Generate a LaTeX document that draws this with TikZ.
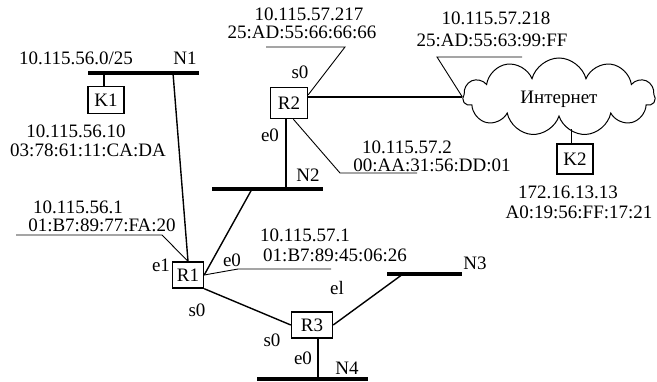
\documentclass[tikz,border=0pt]{standalone}
\usepackage{fontspec}
\setmainfont{Liberation Serif}
\usetikzlibrary{shapes.symbols}
\begin{document}
\begin{tikzpicture}[x=1pt,y=-1pt,
  txt/.style={inner sep=0pt, text height=12.6pt, text depth=0pt, font=\fontsize{19}{20}\selectfont},
  dev/.style={draw, line width=1.4pt, inner sep=0pt, txt},
  bar/.style={line width=4.5pt},
  link/.style={line width=1.4pt},
  lead/.style={line width=0.9pt}]
\useasboundingbox (0,0) rectangle (657,382);
% bars
\coordinate (n1l) at (88,73); \coordinate (n1r) at (199,73);
\coordinate (n2l) at (212,189); \coordinate (n2r) at (323,189);
\coordinate (n3l) at (387,274); \coordinate (n3r) at (462,274);
\coordinate (n4l) at (257,379); \coordinate (n4r) at (368,379);
\draw[bar] (n1l) -- (n1r);
\draw[bar] (n2l) -- (n2r);
\draw[bar] (n3l) -- (n3r);
\draw[bar] (n4l) -- (n4r);
% devices
\node[dev, minimum width=36pt, minimum height=27pt] (k1) at (106,100) {K1};
\node[dev, minimum width=37pt, minimum height=31pt] (r2) at (289,103) {R2};
\node[dev, minimum width=31pt, minimum height=26pt] (r1) at (188,275) {R1};
\node[dev, minimum width=41pt, minimum height=26pt] (r3) at (312,325) {R3};
\node[dev, minimum width=36pt, minimum height=30pt] (k2) at (575,159) {K2};
\node[cloud, draw, line width=1pt, cloud puffs=11, aspect=2.6, minimum width=192pt, minimum height=78pt, inner sep=0pt, txt] (net) at (559,97) {Интернет};
% links
\coordinate (k1t) at (104,73);
\draw[link] (k1t) -- (k1.north -| k1t);
\coordinate (n1t) at (173,73);
\draw[link] (n1t) -- (r1.north);
\coordinate (n2t) at (286,189);
\draw[link] (r2.south -| n2t) -- (n2t);
\coordinate (n2s) at (252,189);
\draw[link] (n2s) -- (r1.east);
\draw[link] (r2.east |- net.west) -- (net.west);
\draw[link] (r1.south east) -- (r3.west);
\coordinate (n3s) at (403,274);
\draw[link] (r3.east) -- (n3s);
\coordinate (n4t) at (318,379);
\draw[link] (r3.south -| n4t) -- (n4t);
\coordinate (k2c) at (571,130);
\draw[lead] (k2.north -| k2c) -- (k2c |- net.-75);
% leaders
\coordinate (a217) at (345,47); \coordinate (b217) at (266,47);
\draw[lead] (r2.23) -- (a217) -- (b217);
\coordinate (a218) at (437,57); \coordinate (b218) at (522,57);
\draw[lead] (net.west) -- (a218) -- (b218);
\coordinate (a572) at (340,173); \coordinate (b572) at (417,173);
\draw[lead] (r2.-75) -- (a572) -- (b572);
\coordinate (a561) at (162,235); \coordinate (b561) at (16,235);
\draw[lead] (r1.north) -- (a561) -- (b561);
\coordinate (a571) at (238,269); \coordinate (b571) at (331,269);
\draw[lead] (r1.east) -- (a571) -- (b571);
% texts
\node[txt] (t1) at (76,58) {10.115.56.0/25};
\node[txt] (t2) at (185,58) {N1};
\node[txt] (t3) at (76,131) {10.115.56.10};
\node[txt] (t4) at (88,150) {03:78:61:11:CA:DA};
\node[txt] (t5) at (309,14) {10.115.57.217};
\node[txt] (t6) at (302,32) {25:AD:55:66:66:66};
\node[txt] (t7) at (300,72) {s0};
\node[txt] (t8) at (270,135) {e0};
\node[txt] (t9) at (308,175) {N2};
\node[txt] (t10) at (496,18) {10.115.57.218};
\node[txt] (t11) at (492,40) {25:AD:55:63:99:FF};
\node[txt] (t13) at (407,147) {10.115.57.2};
\node[txt] (t14) at (432,165) {00:AA:31:56:DD:01};
\node[txt] (t15) at (568,192) {172.16.13.13};
\node[txt] (t16) at (579,212) {A0:19:56:FF:17:21};
\node[txt] (t17) at (78,207) {10.115.56.1};
\node[txt] (t18) at (102,225) {01:B7:89:77:FA:20};
\node[txt] (t19) at (161,265) {e1};
\node[txt] (t20) at (232,260) {e0};
\node[txt] (t21) at (305,235) {10.115.57.1};
\node[txt] (t22) at (335,255) {01:B7:89:45:06:26};
\node[txt] (t23) at (197,310) {s0};
\node[txt] (t24) at (272,340) {s0};
\node[txt] (t25) at (303,358) {e0};
\node[txt] (t26) at (347,368) {N4};
\node[txt] (t27) at (475,263) {N3};
\node[txt] (t28) at (337,288) {el};
\end{tikzpicture}
\end{document}
